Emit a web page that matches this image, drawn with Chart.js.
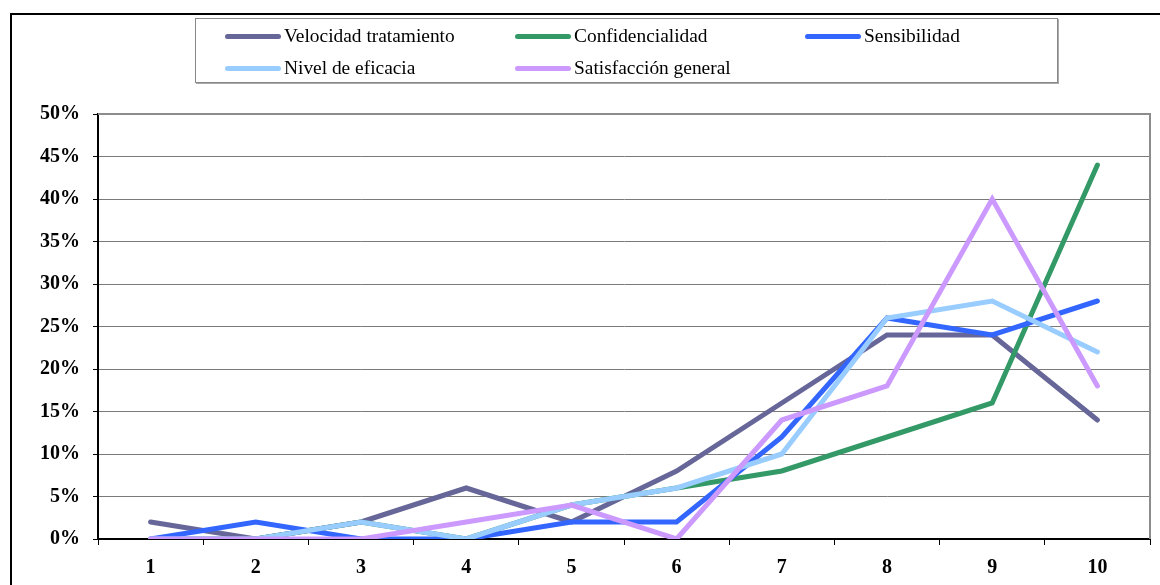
<!DOCTYPE html>
<html>
<head>
<meta charset="utf-8">
<script src="https://cdn.jsdelivr.net/npm/chart.js@4"></script>
<style>
  body { margin: 0; background: #fff; }
  #wrap { position: relative; width: 1160px; height: 585px; overflow: hidden; }
  #legend {
    position: absolute; left: 195px; top: 18px; width: 861px; height: 63px;
    border: 1px solid #888; box-shadow: 1px 1px 0 #aaa; background: #fff;
    font-family: "Liberation Serif", "Times New Roman", serif; font-size: 19.4px; color: #000;
  }
  .item { position: absolute; display: flex; align-items: center; height: 22px; }
  .swatch { width: 56px; height: 5px; border-radius: 3px; margin-right: 3px; }
</style>
</head>
<body>
<div id="wrap">
  <canvas id="lineChart" width="1160" height="585"></canvas>
  <div id="legend"></div>
</div>
<script>
const categories = ["1", "2", "3", "4", "5", "6", "7", "8", "9", "10"];
const seriesNames = ["Velocidad tratamiento", "Confidencialidad", "Sensibilidad", "Nivel de eficacia", "Satisfacción general"];
const seriesColors = ["#666699", "#339966", "#3366FF", "#99CCFF", "#CC99FF"];

// percentages
const velocidad = [2, 0, 2, 6, 2, 8, 16, 24, 24, 14];
const confidencialidad = [0, 0, 2, 0, 4, 6, 8, 12, 16, 44];
const sensibilidad = [0, 2, 0, 0, 2, 2, 12, 26, 24, 28];
const eficacia = [0, 0, 2, 0, 4, 6, 10, 26, 28, 22];
const satisfaccion = [0, 0, 0, 2, 4, 0, 14, 18, 40, 18];
const seriesData = [velocidad, confidencialidad, sensibilidad, eficacia, satisfaccion];

// legend (html, three columns like the original)
const legendEl = document.getElementById("legend");
seriesNames.forEach((name, i) => {
  const item = document.createElement("div");
  item.className = "item";
  item.style.left = (29 + (i % 3) * 290) + "px";
  item.style.top = (6 + Math.floor(i / 3) * 32) + "px";
  const sw = document.createElement("div");
  sw.className = "swatch";
  sw.style.background = seriesColors[i];
  const txt = document.createElement("span");
  txt.textContent = name;
  item.appendChild(sw);
  item.appendChild(txt);
  legendEl.appendChild(item);
});

// outer frame + top/right plot border
const framePlugin = {
  id: "frame",
  beforeDraw(chart) {
    const c = chart.ctx;
    c.save();
    c.strokeStyle = "#000";
    c.lineWidth = 2;
    c.beginPath();
    c.moveTo(11, 600);
    c.lineTo(11, 14);
    c.lineTo(1170, 14);
    c.stroke();
    c.restore();
  },
  afterDatasetsDraw(chart) {
    const a = chart.chartArea;
    const c = chart.ctx;
    c.save();
    c.strokeStyle = "#8c8c8c";
    c.lineWidth = 2;
    c.beginPath();
    c.moveTo(a.left, a.top);
    c.lineTo(a.right, a.top);
    c.lineTo(a.right, a.bottom);
    c.stroke();
    c.restore();
  }
};

const tickFont = { family: "Liberation Serif", size: 20, weight: "bold" };

new Chart(document.getElementById("lineChart").getContext("2d"), {
  type: "line",
  data: {
    labels: categories,
    datasets: seriesData.map((vals, i) => ({
      label: seriesNames[i],
      data: vals,
      borderColor: seriesColors[i],
      backgroundColor: seriesColors[i],
      borderWidth: 5,
      pointRadius: 0,
      tension: 0,
      borderCapStyle: "round",
      borderJoinStyle: "miter",
      order: seriesData.length - i
    }))
  },
  options: {
    responsive: false,
    animation: false,
    layout: { padding: { top: 114, right: 10, left: 0, bottom: 0 } },
    plugins: {
      legend: { display: false },
      tooltip: { enabled: false }
    },
    scales: {
      x: {
        offset: true,
        grid: {
          offset: true,
          drawOnChartArea: false,
          drawTicks: true,
          tickLength: 6,
          tickColor: "#000"
        },
        border: { color: "#000", width: 2 },
        ticks: { color: "#000", font: tickFont, padding: 11, maxRotation: 0 },
        afterFit: (s) => { s.height = 46; }
      },
      y: {
        min: 0,
        max: 50,
        grid: {
          color: "#7a7a7a",
          lineWidth: 1,
          tickLength: 5,
          tickColor: "#000"
        },
        border: { color: "#000", width: 2 },
        ticks: {
          stepSize: 5,
          color: "#000",
          font: tickFont,
          padding: 13,
          callback: (v) => v + "%"
        },
        afterFit: (s) => { s.width = 98; }
      }
    }
  },
  plugins: [framePlugin]
});
</script>
</body>
</html>
